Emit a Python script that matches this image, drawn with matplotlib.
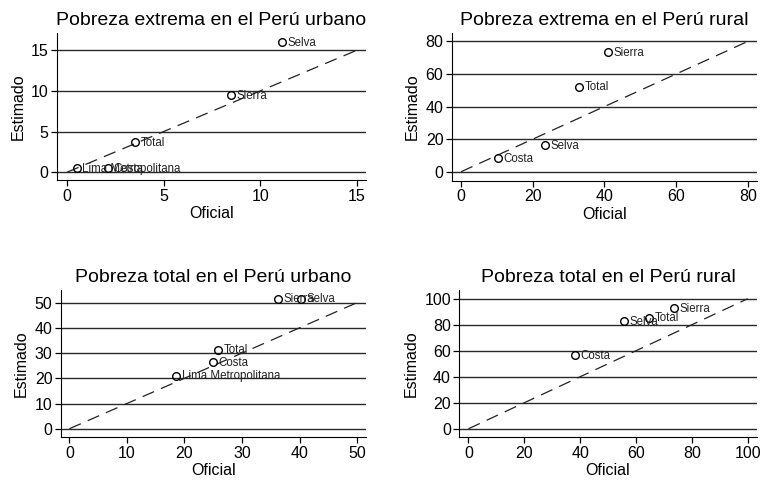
import matplotlib
matplotlib.use("Agg")
import matplotlib.pyplot as plt

plt.rcParams['font.family'] = ['Liberation Sans', 'DejaVu Sans']

# Pobreza extrema urbano
ext_urb_names = ['Selva', 'Sierra', 'Total', 'Lima Metropolitana', 'Costa']
ext_urb_oficial = [11.1, 8.5, 3.5, 0.5, 2.1]
ext_urb_estimado = [16.0, 9.5, 3.7, 0.5, 0.5]

# Pobreza extrema rural
ext_rur_names = ['Sierra', 'Total', 'Selva', 'Costa']
ext_rur_oficial = [40.9, 32.9, 23.3, 10.4]
ext_rur_estimado = [73.5, 52.3, 16.2, 8.2]

# Pobreza total urbano
tot_urb_names = ['Sierra', 'Selva', 'Total', 'Costa', 'Lima Metropolitana']
tot_urb_oficial = [36.3, 40.2, 25.8, 25.0, 18.6]
tot_urb_estimado = [51.6, 51.6, 31.3, 26.3, 21.1]

# Pobreza total rural
tot_rur_names = ['Sierra', 'Total', 'Selva', 'Costa']
tot_rur_oficial = [73.5, 64.7, 55.6, 38.2]
tot_rur_estimado = [92.8, 85.4, 82.8, 56.7]

panels = [
    ('Pobreza extrema en el Perú urbano', ext_urb_names, ext_urb_oficial, ext_urb_estimado,
     [0, 5, 10, 15], [0, 5, 10, 15], 15, (-0.52, 15.47), (-0.98, 17.1),
     [0.0749, 0.630, 0.4061, 0.302]),
    ('Pobreza extrema en el Perú rural', ext_rur_names, ext_rur_oficial, ext_rur_estimado,
     [0, 20, 40, 60, 80], [0, 20, 40, 60, 80], 80, (-2.6, 82.5), (-5.7, 85),
     [0.5936, 0.6283, 0.4007, 0.3033]),
    ('Pobreza total en el Perú urbano', tot_urb_names, tot_urb_oficial, tot_urb_estimado,
     [0, 10, 20, 30, 40, 50], [0, 10, 20, 30, 40, 50], 50, (-1.5, 51.5), (-3.4, 55),
     [0.0798, 0.102, 0.4008, 0.3025]),
    ('Pobreza total en el Perú rural', tot_rur_names, tot_rur_oficial, tot_rur_estimado,
     [0, 20, 40, 60, 80, 100], [0, 20, 40, 60, 80, 100], 100, (-3.3, 103.2), (-6.6, 106.7),
     [0.6035, 0.102, 0.3908, 0.3025]),
]

fig = plt.figure(figsize=(7.61, 4.87), dpi=100)

for title, names, xo, ye, xt, yt, lim, xl, yl, pos in panels:
    ax = fig.add_axes(pos)
    for t in yt:
        ax.axhline(t, color='#2a2a2a', lw=1.0, zorder=1)
    ax.plot([0, lim], [0, lim], color='#222222', lw=0.9, dashes=(10, 6), zorder=2)
    ax.plot(xo, ye, 'o', mfc='none', mec='black', ms=5.5, mew=1.0, zorder=3)
    for n, a, b in zip(names, xo, ye):
        ax.annotate(n, (a, b), xytext=(4, -0.5), textcoords='offset points',
                    fontsize=8.3, va='center', ha='left', color='#222222')
    ax.set_xlim(*xl)
    ax.set_ylim(*yl)
    ax.set_xticks(xt)
    ax.set_yticks(yt)
    ax.tick_params(labelsize=11.5, length=4, width=0.9, direction='out', pad=2)
    ax.spines['top'].set_visible(False)
    ax.spines['right'].set_visible(False)
    ax.set_xlabel('Oficial', fontsize=11.5, labelpad=2)
    ax.set_ylabel('Estimado', fontsize=11.5, labelpad=4)
    ax.set_title(title, fontsize=14, pad=6)

fig.savefig('out.png', dpi=100)
